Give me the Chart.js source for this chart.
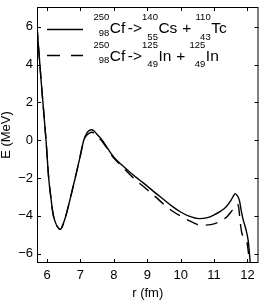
<!DOCTYPE html>
<html><head><meta charset="utf-8">
<script src="https://cdn.jsdelivr.net/npm/chart.js@4/dist/chart.umd.min.js"></script>
<style>html,body{margin:0;padding:0;background:#fff}</style>
</head><body>
<canvas id="c" width="266" height="300"></canvas>
<script>
// ---- data ----
const rSolid = [5.70,5.83,5.97,6.05,6.12,6.18,6.25,6.32,6.40,6.46,6.52,6.58,6.70,6.85,6.98,7.10,7.20,7.27,7.33,7.40,7.50,7.65,7.80,8.00,8.25,8.50,8.75,9.00,9.25,9.50,9.75,10.00,10.25,10.55,10.80,11.00,11.20,11.35,11.50,11.58,11.63,11.70,11.76,11.82,11.87,11.95,12.02,12.05,12.09];
const eSolid = [6.0,3.0,0.0,-2.0,-3.1,-3.9,-4.35,-4.6,-4.72,-4.55,-4.25,-3.9,-3.05,-1.95,-0.95,0.0,0.4,0.52,0.55,0.5,0.3,0.0,-0.4,-0.9,-1.33,-1.72,-2.08,-2.43,-2.8,-3.15,-3.5,-3.8,-4.02,-4.15,-4.1,-3.95,-3.75,-3.55,-3.2,-2.95,-2.83,-2.95,-3.2,-3.8,-4.2,-4.7,-5.3,-5.8,-6.7];
const rDashed = [5.70,5.83,5.97,6.05,6.12,6.18,6.25,6.32,6.40,6.46,6.52,6.58,6.70,6.85,6.98,7.10,7.18,7.27,7.35,7.45,7.55,7.66,7.80,8.00,8.25,8.50,8.75,9.00,9.25,9.50,9.75,10.00,10.30,10.60,10.90,11.20,11.40,11.55,11.70,11.74,11.78,11.83,11.90,11.98,12.03,12.07];
const eDashed = [6.0,3.0,0.0,-2.0,-3.1,-3.9,-4.35,-4.6,-4.72,-4.55,-4.25,-3.9,-3.05,-1.95,-0.95,0.0,0.25,0.38,0.42,0.3,0.12,-0.08,-0.45,-0.95,-1.4,-1.85,-2.25,-2.62,-3.0,-3.4,-3.75,-4.02,-4.3,-4.5,-4.47,-4.28,-4.02,-3.7,-3.38,-3.6,-4.3,-4.9,-5.15,-5.35,-6.0,-6.8];
const xTicks = [6,7,8,9,10,11,12];
const yTicks = [-6,-4,-2,0,2,4,6];
const xTitle = 'r (fm)';
const yTitle = 'E (MeV)';
// legend: [pre-superscript, pre-subscript, element] pieces joined by operators
const legendSolid = [['250','98','Cf'],'->',['140','55','Cs'],' + ',['110','43','Tc']];
const legendDashed = [['250','98','Cf'],'->',['125','49','In'],' + ',['125','49','In']];

const FONT = '"Liberation Sans", Arial, Helvetica, sans-serif';
Chart.defaults.font.family = FONT;
Chart.defaults.color = '#000';

function pts(xs, ys){ return xs.map((v,i)=>({x:v,y:ys[i]})); }

function drawLegendRow(ctx, x0, base, parts){
  let x = x0;
  const mainF = '15.5px ' + FONT, scrF = '9.5px ' + FONT;
  let first = true;
  for (const p of parts){
    if (typeof p === 'string'){
      ctx.font = mainF; ctx.textAlign='left';
      x += (p === '->') ? 2.5 : 0.5;
      ctx.fillText(p, x, base);
      x += ctx.measureText(p).width;
    } else {
      ctx.font = scrF;
      const w = Math.max(ctx.measureText(p[0]).width, ctx.measureText(p[1]).width);
      ctx.textAlign='right';
      ctx.fillText(p[0], x + w, base - 13);
      ctx.fillText(p[1], x + w, base + (first ? 2.5 : 6.2));
      x += w + 0.5;
      ctx.font = mainF; ctx.textAlign='left';
      ctx.fillText(p[2], x, base);
      x += ctx.measureText(p[2]).width;
      first = false;
    }
  }
}

const decor = {
  id:'decor',
  afterDatasetsDraw(chart){
    const {ctx, chartArea:a, scales:{x,y}} = chart;
    ctx.save();
    ctx.strokeStyle='#000'; ctx.lineWidth=1;
    ctx.strokeRect(a.left+0.5, a.top+0.5, a.right-a.left-1, a.bottom-a.top-1);
    ctx.beginPath();
    const L=4;
    xTicks.forEach(v=>{ const p=Math.round(x.getPixelForValue(v))+0.5;
      ctx.moveTo(p,a.bottom); ctx.lineTo(p,a.bottom-L);
      ctx.moveTo(p,a.top); ctx.lineTo(p,a.top+L); });
    yTicks.forEach(v=>{ const p=Math.round(y.getPixelForValue(v))+0.5;
      ctx.moveTo(a.left,p); ctx.lineTo(a.left+L,p);
      ctx.moveTo(a.right,p); ctx.lineTo(a.right-L,p); });
    ctx.stroke();
    // legend samples
    ctx.lineWidth=1.4;
    ctx.beginPath(); ctx.moveTo(47,29.5); ctx.lineTo(83,29.5); ctx.stroke();
    ctx.setLineDash([13,11]);
    ctx.beginPath(); ctx.moveTo(47,55.5); ctx.lineTo(83,55.5); ctx.stroke();
    ctx.setLineDash([]);
    ctx.fillStyle='#000'; ctx.textBaseline='alphabetic';
    drawLegendRow(ctx, 93.5, 33.3, legendSolid);
    drawLegendRow(ctx, 93.5, 60.7, legendDashed);
    ctx.restore();
  }
};

new Chart(document.getElementById('c'), {
  type:'scatter',
  data:{datasets:[
    {data:pts(rSolid,eSolid), showLine:true, borderColor:'#000', borderWidth:1.4, pointRadius:0, cubicInterpolationMode:'monotone'},
    {data:pts(rDashed,eDashed), showLine:true, borderColor:'#000', borderWidth:1.4, borderDash:[12,8], pointRadius:0, cubicInterpolationMode:'monotone'}
  ]},
  options:{
    responsive:false, animation:false, devicePixelRatio:1,
    layout:{padding:{top:7,right:7.5,left:0,bottom:0}},
    plugins:{legend:{display:false}, tooltip:{enabled:false}},
    scales:{
      x:{type:'linear', min:5.7, max:12.33,
        afterBuildTicks:s=>{s.ticks = xTicks.map(v=>({value:v}));},
        afterFit:s=>{s.height=37; s.paddingLeft=0; s.paddingRight=0;},
        grid:{display:false, drawTicks:false}, border:{display:false},
        ticks:{font:{size:13}, padding:5, maxRotation:0, autoSkip:false, color:'#000'},
        title:{display:true, text:xTitle, font:{size:13, lineHeight:1}, padding:0, color:'#000'}},
      y:{type:'linear', min:-6.5, max:7.05,
        afterBuildTicks:s=>{s.ticks = yTicks.map(v=>({value:v}));},
        afterFit:s=>{s.width=37; s.paddingTop=0; s.paddingBottom=0;},
        grid:{display:false, drawTicks:false}, border:{display:false},
        ticks:{font:{size:13}, padding:4, color:'#000', callback:v=>String(v).replace('-','\u2212')},
        title:{display:true, text:yTitle, font:{size:13, lineHeight:1}, padding:0, color:'#000'}}
    }
  },
  plugins:[decor]
});
</script>
</body></html>
